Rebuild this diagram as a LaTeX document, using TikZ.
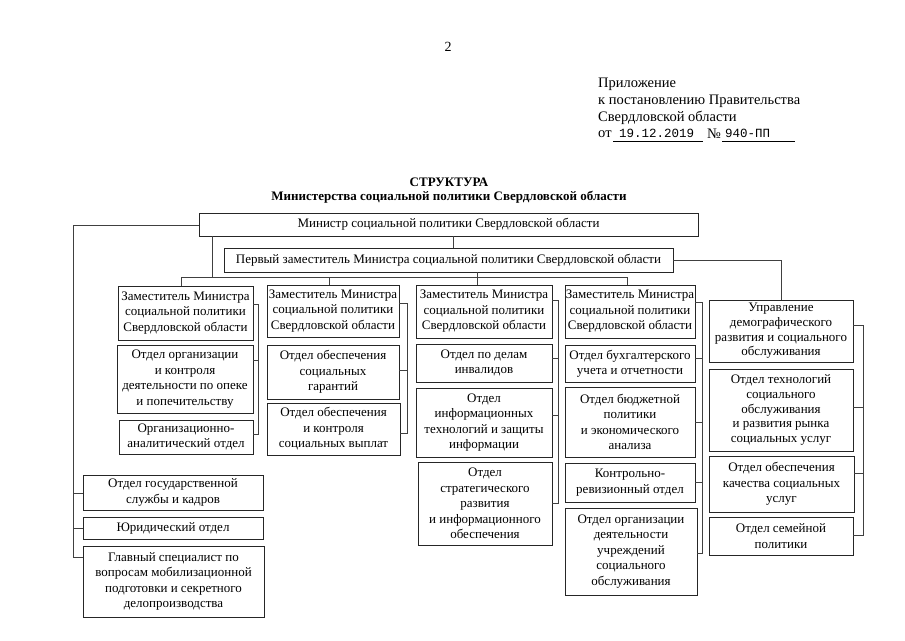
\documentclass[tikz,border=0pt]{standalone}
\usepackage{fontspec}
\setmainfont{Liberation Serif}
\setmonofont{Liberation Mono}
\usetikzlibrary{calc}
\tikzset{
  box/.style={draw=black!85, line width=0.7pt, align=center, inner xsep=0.5pt, inner ysep=0.5pt,
    font=\fontsize{13}{15.5}\selectfont},
  tight/.style={font=\fontsize{13}{14.6}\selectfont},
  conn/.style={draw=black!75, line width=0.6pt},
  hdr/.style={anchor=west, inner sep=0pt, font=\fontsize{14.5}{17}\selectfont},
}
\newcommand{\bx}[7][]{\node[box,#1,minimum width={(#5-#3)*1pt},minimum height={(#6-#4)*1pt}] (#2) at ({(#3+#5)/2},{(#4+#6)/2}) {#7};}
\begin{document}
\begin{tikzpicture}[x=1pt,y=-1pt]
\fill[white] (0,0) rectangle (905,640);
\useasboundingbox (0,0) rectangle (905,640);
% header
\node[inner sep=0pt, font=\fontsize{14}{16}\selectfont] (pg) at (448,47) {2};
\node[hdr] (h1) at (598,84) {Приложение};
\node[hdr] (h2) at (598,101) {к постановлению Правительства};
\node[hdr] (h3) at (598,118) {Свердловской области};
\node[hdr] (h4) at (598,134) {от};
\node[anchor=west, inner sep=0pt, font=\ttfamily\fontsize{12.5}{15}\selectfont] (h5) at (619,133) {19.12.2019};
\node[hdr] (h6) at (707,134) {№};
\node[anchor=west, inner sep=0pt, font=\ttfamily\fontsize{12.5}{15}\selectfont] (h7) at (725,133) {940-ПП};
\draw[line width=0.6pt] (613,141) -- (703,141);
\draw[line width=0.6pt] (722,141) -- (795,141);
% title
\node[inner sep=0pt, font=\bfseries\fontsize{13}{15}\selectfont] (t1) at (449,182) {СТРУКТУРА};
\node[inner sep=0pt, font=\bfseries\fontsize{13}{15}\selectfont] (t2) at (449,197) {Министерства социальной политики Свердловской области};
% top boxes
\bx{min}{199}{213}{698}{236}{Министр социальной политики Свердловской области}
\bx{fd}{224}{248}{673}{272}{Первый заместитель Министра социальной политики Свердловской области}
% column 1
\bx{c1a}{118}{286}{253}{340}{Заместитель Министра\\социальной политики\\Свердловской области}
\bx{c1b}{117}{345}{253}{413}{Отдел организации\\и контроля\\деятельности по опеке\\и попечительству}
\bx{c1c}{119}{420}{253}{454}{Организационно-\\аналитический отдел}
% column 2
\bx{c2a}{267}{285}{399}{337}{Заместитель Министра\\социальной политики\\Свердловской области}
\bx{c2b}{267}{345}{399}{399}{Отдел обеспечения\\социальных\\гарантий}
\bx{c2c}{267}{403}{400}{455}{Отдел обеспечения\\и контроля\\социальных выплат}
% column 3
\bx{c3a}{416}{285}{552}{338}{Заместитель Министра\\социальной политики\\Свердловской области}
\bx{c3b}{416}{344}{552}{382}{Отдел по делам\\инвалидов}
\bx{c3c}{416}{388}{552}{457}{Отдел\\информационных\\технологий и защиты\\информации}
\bx{c3d}{418}{462}{552}{545}{Отдел\\стратегического\\развития\\и информационного\\обеспечения}
% column 4
\bx{c4a}{565}{285}{695}{338}{Заместитель Министра\\социальной политики\\Свердловской области}
\bx{c4b}{565}{345}{695}{382}{Отдел бухгалтерского\\учета и отчетности}
\bx{c4c}{565}{387}{695}{457}{Отдел бюджетной\\политики\\и экономического\\анализа}
\bx{c4d}{565}{463}{695}{502}{Контрольно-\\ревизионный отдел}
\bx{c4e}{565}{508}{697}{595}{Отдел организации\\деятельности\\учреждений\\социального\\обслуживания}
% column 5
\bx[tight]{c5a}{709}{300}{853}{362}{Управление\\демографического\\развития и социального\\обслуживания}
\bx[tight]{c5b}{709}{369}{853}{451}{Отдел технологий\\социального\\обслуживания\\и развития рынка\\социальных услуг}
\bx{c5c}{709}{456}{854}{512}{Отдел обеспечения\\качества социальных\\услуг}
\bx{c5d}{709}{517}{853}{555}{Отдел семейной\\политики}
% left column
\bx{l1}{83}{475}{263}{510}{Отдел государственной\\службы и кадров}
\bx{l2}{83}{517}{263}{539}{Юридический отдел}
\bx{l3}{83}{546}{264}{617}{Главный специалист по\\вопросам мобилизационной\\подготовки и секретного\\делопроизводства}
% connectors: top
\draw[conn] ([xshift=4.5pt]min.south) -- ([xshift=4.5pt]fd.north);
\draw[conn] ([xshift=14pt]min.south west) -- ([xshift=14pt]min.south west |- 0,277);
\draw[conn] ([xshift=-4.5pt]c1a.north) -- ([xshift=-4.5pt]c1a.north |- 0,277) -| ([xshift=-2.5pt]c4a.north);
\draw[conn] ([xshift=-4pt]c2a.north) -- ([xshift=-4pt]c2a.north |- 0,277);
\draw[conn] ([xshift=-7pt]c3a.north |- fd.south) -- ([xshift=-7pt]c3a.north);
\draw[conn] (fd.east) -| (c5a.north);
% left bus
\draw[conn] (min.west |- 0,225) -| (73,557) -- (l3.west |- 0,557);
\draw[conn] (73,493) -- (l1.west |- 0,493);
\draw[conn] (73,528) -- (l2.west |- 0,528);
% column brackets
\draw[conn] (c1a.east |- 0,304) -| (258,434) -- (c1c.east |- 0,434);
\draw[conn] (258,360) -- (c1b.east |- 0,360);
\draw[conn] (c2a.east |- 0,303) -| (407,433) -- (c2c.east |- 0,433);
\draw[conn] (407,370) -- (c2b.east |- 0,370);
\draw[conn] (c3a.east |- 0,300) -| (558,503) -- (c3d.east |- 0,503);
\draw[conn] (558,358) -- (c3b.east |- 0,358);
\draw[conn] (558,415) -- (c3c.east |- 0,415);
\draw[conn] (c4a.east |- 0,302) -| (702,553) -- (c4e.east |- 0,553);
\draw[conn] (702,358) -- (c4b.east |- 0,358);
\draw[conn] (702,422) -- (c4c.east |- 0,422);
\draw[conn] (702,482) -- (c4d.east |- 0,482);
\draw[conn] (c5a.east |- 0,325) -| (863,535) -- (c5d.east |- 0,535);
\draw[conn] (863,407) -- (c5b.east |- 0,407);
\draw[conn] (863,473) -- (c5c.east |- 0,473);
\end{tikzpicture}
\end{document}
